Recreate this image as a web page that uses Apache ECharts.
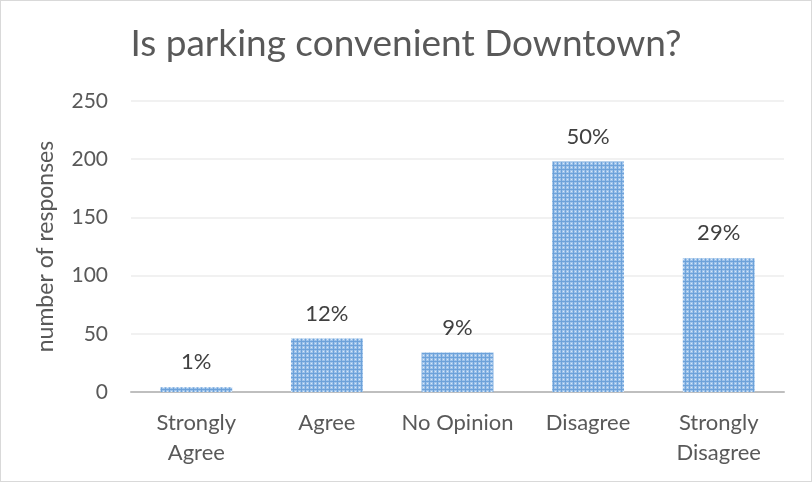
<!DOCTYPE html>
<html><head><meta charset="utf-8">
<script src="https://cdn.jsdelivr.net/npm/echarts@6/dist/echarts.min.js"></script>
<style>html,body{margin:0;padding:0;background:#fff}#c{width:810px;height:480px;border:1px solid #d9d9d9}</style>
</head><body><div id="c"></div>
<script>
const categories = ['Strongly\nAgree', 'Agree', 'No Opinion', 'Disagree', 'Strongly\nDisagree'];
const responses = [4, 46, 34, 198, 115];
const percentLabels = ['1%', '12%', '9%', '50%', '29%'];
const yTicks = { min: 0, max: 250, interval: 50 };

const pc = document.createElement('canvas');
pc.width = 4; pc.height = 4;
const g = pc.getContext('2d');
g.fillStyle = '#9ec3ea'; g.fillRect(0, 0, 4, 4);
g.fillStyle = '#6da2da'; g.fillRect(0, 0, 4, 1); g.fillRect(0, 0, 1, 4);
g.fillStyle = '#dbe8f7'; g.fillRect(2, 2, 1, 1);

const chart = echarts.init(document.getElementById('c'));
const FONT = 'Lato, "Open Sans", sans-serif';
chart.setOption({
  animation: false,
  textStyle: { fontFamily: FONT },
  title: {
    text: 'Is parking convenient Downtown?', left: 'center', top: 20,
    textStyle: { fontFamily: FONT, fontSize: 37, fontWeight: 'normal', color: '#595959' }
  },
  grid: { left: 130, right: 27, top: 100, bottom: 89 },
  xAxis: {
    type: 'category', data: categories,
    axisLine: { lineStyle: { color: '#bfbfbf', width: 2 } },
    axisTick: { show: false },
    axisLabel: { fontSize: 22, color: '#595959', lineHeight: 30, margin: 16, interval: 0, fontFamily: FONT }
  },
  yAxis: {
    type: 'value', min: yTicks.min, max: yTicks.max, interval: yTicks.interval,
    name: 'number of responses', nameLocation: 'middle', nameGap: 74, nameRotate: 90,
    nameTextStyle: { fontSize: 23, color: '#595959', fontFamily: FONT },
    axisLine: { show: false }, axisTick: { show: false },
    axisLabel: { fontSize: 21, color: '#595959', margin: 23, fontFamily: FONT },
    splitLine: { lineStyle: { color: '#ececec', width: 1.5 } }
  },
  series: [{
    type: 'bar', data: responses, barWidth: '55%',
    itemStyle: { color: { image: pc, repeat: 'repeat' } },
    label: {
      show: true, position: 'top', distance: 14, fontSize: 22, color: '#404040', fontFamily: FONT,
      formatter: p => percentLabels[p.dataIndex]
    }
  }]
});
</script></body></html>
